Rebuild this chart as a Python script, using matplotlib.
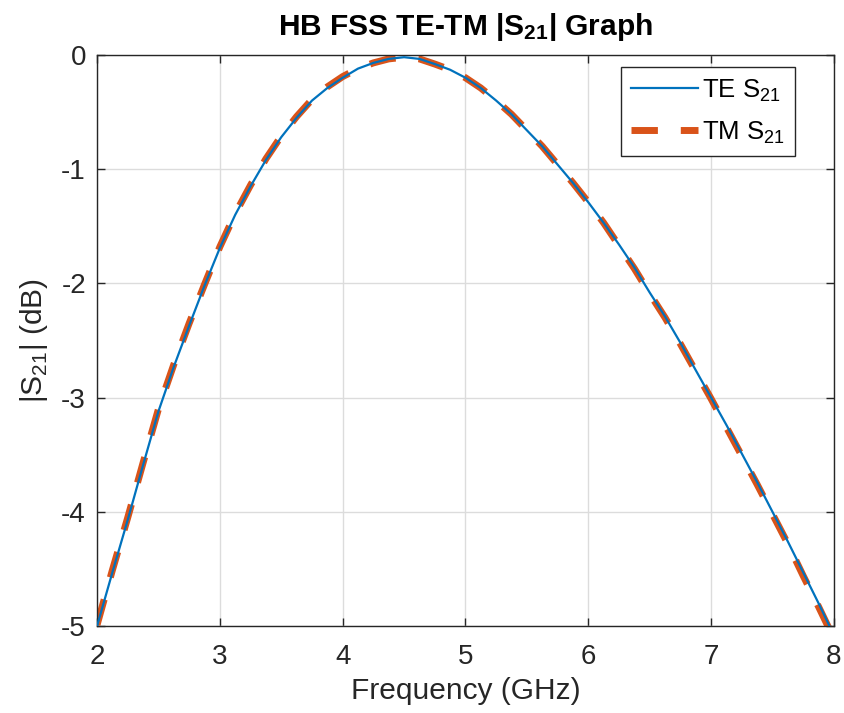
import matplotlib
matplotlib.use('Agg')
import matplotlib.pyplot as plt  # NOQA
import numpy as np  # NOQA

plt.rcParams['font.family'] = ['Liberation Sans', 'DejaVu Sans']
plt.rcParams['mathtext.fontset'] = 'custom'
plt.rcParams['mathtext.rm'] = 'Liberation Sans'
plt.rcParams['mathtext.bf'] = 'Liberation Sans:bold'

# frequency in GHz, |S21| in dB
freq = [2.000, 2.125, 2.250, 2.375, 2.500, 2.625, 2.750, 2.875,
        3.000, 3.125, 3.250, 3.375, 3.500, 3.625, 3.750, 3.875,
        4.000, 4.125, 4.250, 4.375, 4.500, 4.625, 4.750, 4.875,
        5.000, 5.125, 5.250, 5.375, 5.500, 5.625, 5.750, 5.875,
        6.000, 6.125, 6.250, 6.375, 6.500, 6.625, 6.750, 6.875,
        7.000, 7.125, 7.250, 7.375, 7.500, 7.625, 7.750, 7.875, 8.000]
te_s21 = [-5.00, -4.53, -4.07, -3.59, -3.12, -2.73, -2.37, -2.02,
          -1.69, -1.40, -1.15, -0.92, -0.72, -0.55, -0.40, -0.29,
          -0.20, -0.12, -0.07, -0.035, -0.02, -0.035, -0.08, -0.13,
          -0.20, -0.29, -0.40, -0.52, -0.66, -0.80, -0.96, -1.12,
          -1.29, -1.47, -1.66, -1.86, -2.08, -2.29, -2.52, -2.76,
          -3.00, -3.24, -3.49, -3.74, -4.00, -4.26, -4.53, -4.80, -5.08]
tm_s21 = [-4.99, -4.51, -4.05, -3.57, -3.10, -2.71, -2.35, -2.01,
          -1.68, -1.39, -1.14, -0.91, -0.71, -0.54, -0.39, -0.28,
          -0.19, -0.12, -0.07, -0.035, -0.02, -0.035, -0.08, -0.13,
          -0.20, -0.29, -0.40, -0.52, -0.66, -0.80, -0.96, -1.12,
          -1.29, -1.47, -1.67, -1.87, -2.09, -2.30, -2.53, -2.77,
          -3.01, -3.26, -3.51, -3.76, -4.02, -4.28, -4.56, -4.83, -5.11]

xticks = [2, 3, 4, 5, 6, 7, 8]
yticks = [0, -1, -2, -3, -4, -5]

blue = '#0072BD'
orange = '#D95319'
axcol = '#262626'

fig = plt.figure(figsize=(8.44, 7.13), dpi=100)
ax = fig.add_axes([0.115, 0.122, 0.873, 0.801])

ax.plot(freq, te_s21, color=blue, lw=1.6, label='TE S$_{21}$', zorder=3)
ax.plot(freq, tm_s21, color=orange, lw=5.0, ls=(0, (3.8, 3.3)),
        label='TM S$_{21}$', zorder=2)

ax.set_xlim(2, 8)
ax.set_ylim(-5, 0)
ax.set_xticks(xticks)
ax.set_yticks(yticks)
ax.set_yticklabels([str(t) for t in yticks])

ax.grid(True, color='#dcdcdc', lw=1.0)
ax.set_axisbelow(True)
ax.tick_params(direction='in', length=6, width=1.0, colors=axcol,
               labelsize=20, top=True, right=True)
ax.tick_params(axis='x', pad=13)
ax.tick_params(axis='y', pad=8)
for s in ax.spines.values():
    s.set_color(axcol)
    s.set_linewidth(1.0)

ax.set_xlabel('Frequency (GHz)', fontsize=21.5, color=axcol, labelpad=5)
ax.set_ylabel('|S$_{21}$| (dB)', fontsize=21.5, color=axcol, labelpad=8)
ax.set_title('HB FSS TE-TM |$\\mathbf{S_{21}}$| Graph', fontsize=21.5,
             fontweight='bold', color='black', pad=14)

leg = ax.legend(loc='upper right', bbox_to_anchor=(0.947, 0.979),
                borderaxespad=0, fontsize=18.5, fancybox=False,
                framealpha=1, edgecolor=axcol, handlelength=2.6,
                handletextpad=0.15, labelspacing=0.6, borderpad=0.4)
leg.get_frame().set_linewidth(1.0)

fig.savefig('out.png', dpi=100, facecolor='white')
